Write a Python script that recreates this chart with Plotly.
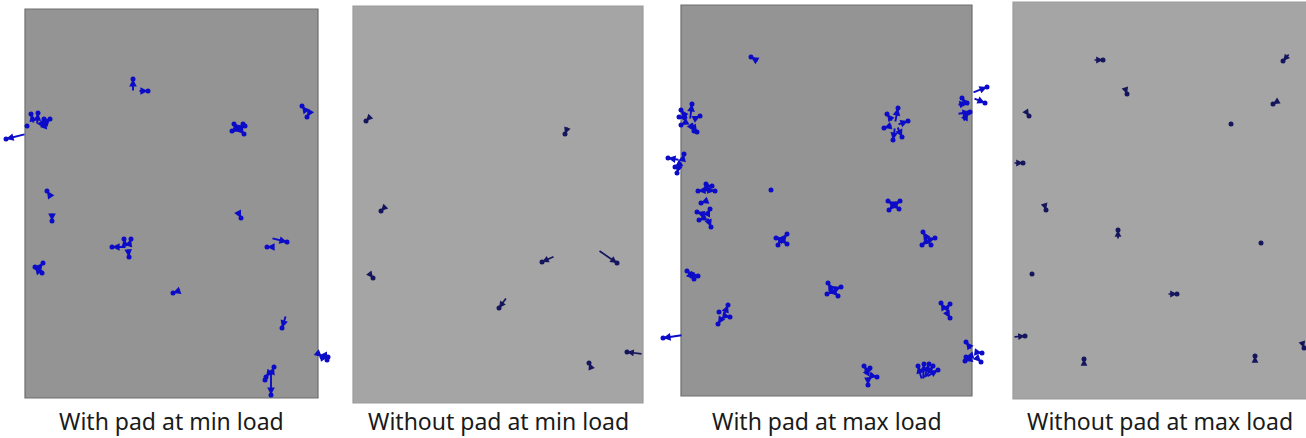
import plotly.graph_objects as go

# ---------------- data ----------------
labels = ["With pad at min load", "Without pad at min load",
          "With pad at max load", "Without pad at max load"]

# vectors: tail (x0, y0) -> head (x1, y1), in pixel units of the measured image
p1_x0 = [133, 138, 34, 37, 40, 44, 46, 30, 26, 237, 239, 238, 236, 241, 305, 311, 51, 52, 238,
         127, 128, 125, 129, 271, 272, 36, 40, 38, 181, 286, 315, 320, 324, 271, 269, 272, 268]
p1_y0 = [92, 91, 124, 125, 126, 127, 123, 127, 134, 133, 133, 128, 128, 131, 110, 110, 197, 212, 212,
         247, 248, 245, 245, 238, 247, 271, 273, 268, 290, 315, 351, 358, 354, 372, 373, 372, 378]
p1_x1 = [133, 148, 31, 38, 44, 46, 50, 27, 6, 234, 243, 245, 232, 244, 302, 307, 47, 52, 241,
         112, 129, 124, 131, 287, 267, 43, 35, 42, 173, 282, 322, 328, 327, 271, 266, 274, 265]
p1_y1 = [79, 91, 114, 113, 119, 121, 119, 126, 139, 124, 124, 126, 131, 134, 106, 117, 191, 221, 218,
         247, 257, 239, 239, 242, 247, 263, 267, 273, 293, 328, 357, 357, 360, 395, 377, 367, 380]

p2_x0 = [370, 568, 385, 369, 555, 598, 507, 643, 592]
p2_y0 = [117, 126, 207, 273, 256, 250, 297, 354, 370]
p2_x1 = [366, 565, 381, 373, 542, 617, 499, 627, 589]
p2_y1 = [121, 134, 211, 278, 262, 263, 308, 352, 363]

p3_x0 = [759, 690, 688, 686, 688, 690, 692, 689, 895, 893, 897, 895, 897, 893, 972, 973, 957, 957,
         963, 966, 680, 682, 680, 683, 707, 707, 704, 706, 706, 705, 707, 707, 704, 894, 894, 894,
         893, 781, 782, 782, 780, 928, 929, 927, 929, 692, 693, 691, 832, 833, 833, 831, 724, 723,
         725, 722, 945, 945, 946, 683, 975, 972, 974, 973, 975, 868, 869, 868, 867, 922, 923, 924,
         925, 926]
p3_y0 = [62, 120, 120, 118, 121, 122, 120, 123, 123, 125, 125, 127, 126, 122, 93, 98, 105, 114,
         122, 104, 160, 162, 163, 158, 190, 190, 186, 190, 201, 215, 215, 217, 218, 205, 205, 205,
         206, 240, 240, 240, 241, 240, 240, 241, 242, 275, 275, 276, 290, 290, 291, 292, 315, 316,
         316, 314, 310, 310, 311, 335, 352, 350, 355, 358, 356, 372, 375, 376, 373, 380, 380, 379,
         378, 377]
p3_x1 = [751, 692, 681, 679, 681, 697, 700, 694, 898, 884, 908, 893, 902, 887, 987, 985, 967, 970,
         968, 962, 668, 675, 677, 684, 698, 715, 712, 706, 701, 697, 710, 711, 699, 888, 900, 899,
         889, 776, 787, 787, 778, 923, 935, 922, 931, 687, 698, 694, 828, 841, 838, 827, 728, 718,
         730, 719, 941, 950, 950, 663, 982, 966, 966, 965, 981, 864, 877, 868, 870, 918, 924, 929,
         933, 938]
p3_y1 = [57, 104, 110, 117, 125, 132, 116, 131, 108, 128, 121, 140, 137, 114, 87, 103, 103, 112,
         113, 98, 158, 167, 173, 154, 191, 191, 186, 184, 203, 212, 209, 227, 220, 201, 201, 209,
         210, 238, 234, 244, 245, 232, 238, 245, 245, 271, 276, 279, 283, 287, 296, 294, 305, 324,
         317, 312, 303, 304, 318, 338, 353, 342, 357, 361, 362, 366, 377, 385, 368, 366, 364, 364,
         366, 370]
p3_dot_x = [771]
p3_dot_y = [190]

p4_x0 = [1093, 1290, 1125, 1027, 1278, 1013, 1044, 1118, 1030, 1167, 1013, 1084, 1255, 1302]
p4_y0 = [60, 53, 88, 113, 101, 163, 203, 240, 272, 294, 337, 366, 363, 342]
p4_x1 = [1103, 1283, 1127, 1029, 1273, 1023, 1046, 1118, 1032, 1177, 1025, 1084, 1255, 1304]
p4_y1 = [60, 61, 94, 116, 104, 163, 210, 230, 274, 294, 336, 359, 356, 348]
p4_dot_x = [1231, 1261]
p4_dot_y = [124, 243]

# ---------------- layout ----------------
W, H = 1306, 438
frames = [  # gray plate: left, right, top, bottom (pixels)
    (25, 318, 9, 398),
    (353, 643, 6, 403),
    (681, 972, 5, 396),
    (1013, 1310, 2, 399),
]
extents = [  # axis area around each plate: left, right, top, bottom
    (0, 336, 0, 405),
    (336, 662, 0, 405),
    (662, 1000, 0, 405),
    (1000, 1306, 0, 405),
]
fills = ["#949494", "#a5a5a5", "#949494", "#a5a5a5"]
borders = ["#6e6e6e", "#9c9c9c", "#6e6e6e", "#9c9c9c"]
arrow_cols = ["#0c0cc8", "#16165e", "#0c0cc8", "#16165e"]
arrow_w = [1.9, 1.7, 1.9, 1.7]

panels = [
    (p1_x0, p1_y0, p1_x1, p1_y1, [], []),
    (p2_x0, p2_y0, p2_x1, p2_y1, [], []),
    (p3_x0, p3_y0, p3_x1, p3_y1, p3_dot_x, p3_dot_y),
    (p4_x0, p4_y0, p4_x1, p4_y1, p4_dot_x, p4_dot_y),
]

fig = go.Figure()
layout = dict(width=W, height=H, margin=dict(l=0, r=0, t=0, b=0),
              paper_bgcolor="white", plot_bgcolor="rgba(0,0,0,0)", showlegend=False)
annotations = []
shapes = []

for i, ((fl, fr, ft, fb), (l, r, t, b), (x0, y0, x1, y1, dx, dy)) in enumerate(
        zip(frames, extents, panels)):
    n = "" if i == 0 else str(i + 1)
    xa, ya = "x" + n, "y" + n
    layout["xaxis" + n] = dict(domain=[l / W, r / W], range=[l, r], visible=False,
                               fixedrange=True, anchor=ya)
    layout["yaxis" + n] = dict(domain=[1 - b / H, 1 - t / H], range=[b, t], visible=False,
                               fixedrange=True, anchor=xa)
    shapes.append(dict(type="rect", xref=xa, yref=ya, x0=fl, x1=fr, y0=fb, y1=ft,
                       fillcolor=fills[i], line=dict(color=borders[i], width=1.2),
                       layer="below"))
    for a, bb, c, d in zip(x0, y0, x1, y1):
        annotations.append(dict(x=c, y=d, ax=a, ay=bb, xref=xa, yref=ya, axref=xa, ayref=ya,
                                text="", showarrow=True, arrowhead=2, arrowsize=0.8,
                                arrowwidth=arrow_w[i], arrowcolor=arrow_cols[i],
                                standoff=0, startstandoff=0))
    fig.add_trace(go.Scatter(x=list(x1) + list(dx), y=list(y1) + list(dy), mode="markers",
                             xaxis=xa, yaxis=ya, cliponaxis=False, hoverinfo="skip",
                             marker=dict(size=5, color=arrow_cols[i])))
    cx = ((fl + min(fr, W)) / 2) / W
    annotations.append(dict(text=labels[i], x=cx, y=1 - 421 / H, xref="paper", yref="paper",
                            xanchor="center", yanchor="middle", showarrow=False,
                            font=dict(family="Noto Sans", size=23, color="#1a1a1a")))

layout["annotations"] = annotations
layout["shapes"] = shapes
fig.update_layout(**layout)
fig.write_html("out.html", config={"displayModeBar": False},
               post_script="document.body.style.margin='0';document.body.style.overflow='hidden';")
